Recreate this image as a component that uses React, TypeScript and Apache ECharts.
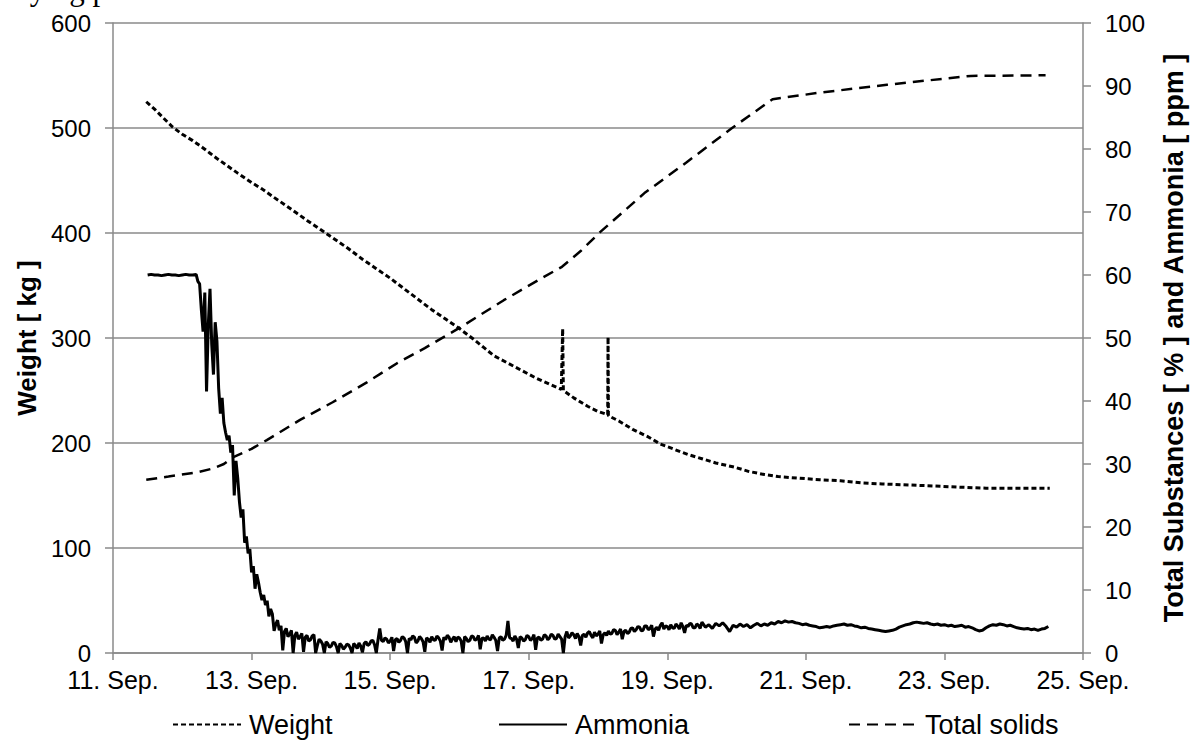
import React, { useEffect, useRef } from "react";
import * as echarts from "echarts";

// X values are days of September (e.g. 12.5 = 12. Sep., noon)
const X_TICKS_MIN = 11;
const X_TICKS_MAX = 25;
const X_TICK_STEP = 2;

const WEIGHT_KG: [number, number][] = [
  [11.48, 525], [11.6, 518], [11.72, 510], [11.86, 501], [12.0, 494], [12.15, 488], [12.3, 481],
  [12.4, 476], [12.5, 471], [12.65, 464], [12.8, 457], [13.0, 448], [13.15, 442], [13.3, 435],
  [13.5, 426], [13.65, 419], [13.8, 412], [14.0, 403], [14.2, 394], [14.4, 385], [14.6, 375],
  [14.8, 366], [15.0, 357], [15.2, 347], [15.42, 336], [15.6, 327], [15.8, 318], [16.0, 309],
  [16.2, 299], [16.35, 291], [16.5, 283], [16.7, 276], [16.9, 269], [17.1, 262], [17.3, 256],
  [17.47, 251], [17.48, 251], [17.49, 309], [17.5, 250], [17.65, 243], [17.85, 235], [18.0, 230],
  [18.14, 227], [18.145, 301], [18.15, 226], [18.3, 221], [18.5, 213], [18.72, 206], [18.9, 199],
  [19.1, 194], [19.3, 189], [19.5, 185], [19.7, 181], [19.97, 177], [20.17, 173], [20.4, 170],
  [20.6, 168], [20.8, 167], [21.0, 166], [21.2, 165], [21.5, 164], [21.8, 162], [22.1, 161],
  [22.5, 160], [22.87, 159], [23.2, 158], [23.6, 157], [24.0, 157], [24.52, 157],
];

const AMMONIA_PPM: [number, number][] = [
  [11.5, 60], [11.55, 60.1], [11.6, 60], [11.65, 60], [11.7, 59.9], [11.75, 60], [11.8, 60.1],
  [11.85, 60], [11.9, 60], [11.95, 59.9], [12.0, 60], [12.05, 60.1], [12.1, 60], [12.15, 60],
  [12.2, 60.1], [12.225, 59.0], [12.25, 58.6], [12.275, 54.5], [12.3, 51.0], [12.325, 57.2],
  [12.35, 41.5], [12.375, 52.0], [12.4, 57.8], [12.425, 49.0], [12.45, 44.2], [12.475, 52.5],
  [12.5, 49.5], [12.525, 42.0], [12.55, 38.0], [12.575, 40.5], [12.6, 36.5], [12.625, 35.0],
  [12.65, 33.8], [12.675, 34.5], [12.7, 31.8], [12.725, 33.0], [12.75, 25.0], [12.775, 30.5],
  [12.8, 27.8], [12.825, 24.0], [12.85, 21.5], [12.875, 22.8], [12.9, 17.5], [12.925, 18.5],
  [12.95, 15.8], [12.975, 16.5], [13.0, 12.8], [13.025, 13.8], [13.05, 10.2], [13.075, 12.5],
  [13.1, 11.2], [13.125, 9.6], [13.15, 8.4], [13.175, 9.2], [13.2, 7.6], [13.225, 8.3],
  [13.25, 5.8], [13.275, 7.0], [13.3, 6.2], [13.325, 3.5], [13.35, 4.6], [13.375, 5.2],
  [13.4, 3.6], [13.425, 4.3], [13.45, 0.4], [13.475, 3.4], [13.5, 3.9], [13.525, 2.6],
  [13.55, 3.0], [13.575, 3.6], [13.6, 0.0], [13.625, 2.8], [13.65, 3.3], [13.675, 2.2],
  [13.7, 2.6], [13.725, 3.1], [13.75, 0.2], [13.775, 2.5], [13.8, 2.8], [13.825, 1.9],
  [13.85, 2.1], [13.875, 2.7], [13.9, 2.9], [13.925, 0.0], [13.95, 1.2], [13.975, 2.2],
  [14.0, 1.9], [14.025, 1.4], [14.05, 0.0], [14.075, 1.8], [14.1, 1.5], [14.125, 0.9],
  [14.15, 1.1], [14.175, 1.7], [14.2, 1.6], [14.225, 1.0], [14.25, 0.0], [14.275, 1.5],
  [14.3, 1.2], [14.325, 0.6], [14.35, 0.9], [14.375, 1.4], [14.4, 1.3], [14.425, 0.8],
  [14.45, 0.0], [14.475, 1.5], [14.5, 1.2], [14.525, 0.7], [14.55, 1.6], [14.575, 1.1],
  [14.6, 0.1], [14.625, 1.5], [14.65, 1.8], [14.675, 1.2], [14.7, 1.4], [14.725, 1.9],
  [14.75, 2.0], [14.775, 1.3], [14.8, 0.0], [14.825, 2.1], [14.85, 3.9], [14.875, 2.0],
  [14.9, 1.8], [14.925, 2.4], [14.95, 2.2], [14.975, 1.6], [15.0, 1.9], [15.025, 2.5],
  [15.05, 0.3], [15.075, 2.1], [15.1, 2.3], [15.125, 1.7], [15.15, 2.0], [15.175, 2.6],
  [15.2, 2.4], [15.225, 1.8], [15.25, 0.0], [15.275, 2.3], [15.3, 2.1], [15.325, 2.7],
  [15.35, 2.5], [15.375, 1.6], [15.4, 1.9], [15.425, 2.6], [15.45, 2.3], [15.475, 1.8],
  [15.5, 0.2], [15.525, 2.4], [15.55, 2.2], [15.575, 1.7], [15.6, 2.6], [15.625, 2.1],
  [15.65, 2.0], [15.675, 2.7], [15.7, 2.4], [15.725, 1.9], [15.75, 0.4], [15.775, 2.5],
  [15.8, 2.1], [15.825, 2.8], [15.85, 2.5], [15.875, 1.7], [15.9, 2.2], [15.925, 2.6],
  [15.95, 1.8], [15.975, 2.5], [16.0, 2.4], [16.025, 1.9], [16.05, 0.0], [16.075, 2.6],
  [16.1, 2.3], [16.125, 1.8], [16.15, 2.0], [16.175, 2.7], [16.2, 2.6], [16.225, 2.0],
  [16.25, 2.2], [16.275, 2.8], [16.3, 0.6], [16.325, 2.3], [16.35, 2.4], [16.375, 1.9],
  [16.4, 2.7], [16.425, 2.2], [16.45, 2.1], [16.475, 2.9], [16.5, 2.5], [16.525, 2.0],
  [16.55, 0.3], [16.575, 2.4], [16.6, 2.6], [16.625, 2.0], [16.65, 2.2], [16.675, 2.8],
  [16.7, 5.1], [16.725, 2.4], [16.75, 2.3], [16.775, 1.9], [16.8, 2.7], [16.825, 2.2],
  [16.85, 0.8], [16.875, 2.6], [16.9, 2.4], [16.925, 1.9], [16.95, 2.1], [16.975, 2.8],
  [17.0, 2.6], [17.025, 2.0], [17.05, 2.3], [17.075, 2.9], [17.1, 0.5], [17.125, 2.4],
  [17.15, 2.5], [17.175, 2.0], [17.2, 2.2], [17.225, 2.9], [17.25, 2.7], [17.275, 2.1],
  [17.3, 2.4], [17.325, 3.0], [17.35, 2.8], [17.375, 2.2], [17.4, 2.3], [17.425, 3.0],
  [17.45, 2.6], [17.475, 2.2], [17.5, 0.0], [17.525, 2.6], [17.55, 3.4], [17.575, 2.4],
  [17.6, 2.7], [17.625, 3.2], [17.65, 2.9], [17.675, 2.3], [17.7, 3.1], [17.725, 2.6],
  [17.75, 1.2], [17.775, 2.8], [17.8, 3.0], [17.825, 2.5], [17.85, 3.2], [17.875, 3.4],
  [17.9, 2.8], [17.925, 2.4], [17.95, 3.3], [17.975, 2.7], [18.0, 3.0], [18.025, 3.5],
  [18.05, 1.5], [18.075, 2.9], [18.1, 3.2], [18.125, 2.8], [18.15, 3.5], [18.175, 3.0],
  [18.2, 3.1], [18.225, 3.7], [18.25, 3.6], [18.275, 2.9], [18.3, 3.3], [18.325, 3.8],
  [18.35, 2.2], [18.375, 3.4], [18.4, 3.6], [18.425, 3.1], [18.45, 3.3], [18.475, 3.9],
  [18.5, 4.0], [18.525, 3.4], [18.55, 3.7], [18.575, 4.2], [18.6, 4.1], [18.625, 3.5],
  [18.65, 3.6], [18.675, 4.3], [18.7, 4.3], [18.725, 3.7], [18.75, 3.9], [18.775, 4.4],
  [18.8, 2.6], [18.825, 3.8], [18.85, 4.1], [18.875, 3.6], [18.9, 4.4], [18.925, 4.8],
  [18.95, 3.8], [18.975, 4.3], [19.0, 4.2], [19.025, 3.7], [19.05, 4.5], [19.075, 4.0],
  [19.1, 3.9], [19.125, 4.6], [19.15, 4.3], [19.175, 3.8], [19.2, 4.8], [19.225, 4.2],
  [19.25, 3.2], [19.275, 4.4], [19.3, 4.2], [19.325, 4.7], [19.35, 4.6], [19.375, 4.0],
  [19.4, 4.0], [19.425, 4.6], [19.45, 4.4], [19.475, 3.9], [19.5, 4.9],
  [19.55, 4.1], [19.6, 4.5], [19.65, 3.9], [19.7, 4.7],
  [19.75, 4.3], [19.8, 4.8], [19.85, 4.2], [19.9, 3.4], [19.95, 4.4], [20.0, 4.1], [20.05, 4.6],
  [20.1, 4.2], [20.15, 4.5], [20.2, 4.0], [20.25, 4.4], [20.3, 4.7], [20.35, 4.3], [20.4, 4.6],
  [20.45, 4.4], [20.5, 4.8], [20.55, 4.6], [20.6, 5.0], [20.65, 4.8], [20.7, 5.1], [20.75, 4.9],
  [20.8, 5.0], [20.85, 4.8], [20.9, 4.7], [20.95, 4.5], [21.0, 4.6], [21.05, 4.4], [21.1, 4.3],
  [21.15, 4.2], [21.2, 4.0], [21.25, 4.1], [21.3, 4.2], [21.35, 4.1], [21.4, 4.3], [21.45, 4.4],
  [21.5, 4.5], [21.55, 4.6], [21.6, 4.4], [21.65, 4.5], [21.7, 4.3], [21.75, 4.2], [21.8, 4.0],
  [21.85, 4.1], [21.9, 3.9], [21.95, 3.8], [22.0, 3.7], [22.05, 3.6], [22.1, 3.5], [22.15, 3.4],
  [22.2, 3.5], [22.25, 3.6], [22.3, 3.8], [22.35, 4.1], [22.4, 4.3], [22.45, 4.5], [22.5, 4.6],
  [22.55, 4.8], [22.6, 4.9], [22.65, 4.8], [22.7, 4.7], [22.75, 4.8], [22.8, 4.6], [22.85, 4.5],
  [22.9, 4.6], [22.95, 4.4], [23.0, 4.5], [23.05, 4.3], [23.1, 4.4], [23.15, 4.2], [23.2, 4.3],
  [23.25, 4.4], [23.3, 4.1], [23.35, 4.2], [23.4, 4.0], [23.45, 3.7], [23.5, 3.5], [23.55, 3.6],
  [23.6, 4.0], [23.65, 4.3], [23.7, 4.5], [23.75, 4.4], [23.8, 4.6], [23.85, 4.5], [23.9, 4.3],
  [23.95, 4.4], [24.0, 4.2], [24.05, 4.0], [24.1, 3.9], [24.15, 3.8], [24.2, 3.9], [24.25, 3.7],
  [24.3, 3.8], [24.35, 3.6], [24.4, 3.8], [24.45, 3.9], [24.5, 4.2],
];

const TOTAL_SOLIDS_PCT: [number, number][] = [
  [11.48, 27.5], [11.8, 28.0], [12.22, 28.7], [12.45, 29.3], [12.6, 30.0], [12.72, 31.0],
  [13.0, 32.4], [13.22, 33.8], [13.7, 37.0], [14.17, 39.8], [14.67, 43.0], [15.1, 46.0],
  [15.5, 48.4], [16.0, 51.6], [16.64, 56.0], [17.22, 59.7], [17.48, 61.3], [17.75, 63.8],
  [18.03, 66.8], [18.67, 73.0], [19.28, 77.9], [19.93, 83.3], [20.52, 87.9], [21.17, 88.9],
  [22.17, 90.2], [23.38, 91.6], [24.46, 91.7],
];

const SERIES_NAMES = ["Weight", "Ammonia", "Total solids"];
const LEFT_AXIS_TITLE = "Weight [ kg ]";
const RIGHT_AXIS_TITLE = "Total Substances [ % ] and Ammonia [ ppm ]";
const CAPTION = "Drying process";

const FONT = "'Liberation Sans', Arial, sans-serif";
const GRAY = "#8a8a8a";

export default function App() {
  const ref = useRef<HTMLDivElement>(null);
  useEffect(() => {
    if (!ref.current) return;
    const chart = echarts.init(ref.current, null, { renderer: "svg" });
    const legendBase = {
      orient: "horizontal",
      top: 711,
      padding: 0,
      itemWidth: 68,
      itemHeight: 14,
      itemStyle: { opacity: 0, color: "transparent", borderWidth: 0 },
      textStyle: { fontFamily: FONT, fontSize: 27, color: "#000", padding: [0, 0, 0, 3] },
      selectedMode: false,
    };
    chart.setOption({
      animation: false,
      backgroundColor: "#fff",
      textStyle: { fontFamily: FONT },
      grid: { left: 113, right: 112, top: 23, bottom: 87, containLabel: false },
      graphic: [
        {
          type: "text",
          left: -3,
          top: -26,
          style: {
            text: CAPTION,
            font: "31px 'Liberation Serif', 'Times New Roman', serif",
            fill: "#000",
          },
        },
      ],
      legend: [
        { ...legendBase, left: 172, data: [SERIES_NAMES[0]] },
        { ...legendBase, left: 498, data: [SERIES_NAMES[1]] },
        { ...legendBase, left: 848, data: [SERIES_NAMES[2]] },
      ],
      xAxis: {
        type: "value",
        min: X_TICKS_MIN,
        max: X_TICKS_MAX,
        interval: X_TICK_STEP,
        axisLine: { show: true, lineStyle: { color: GRAY, width: 1.5 } },
        axisTick: { show: true, inside: false, length: 7, lineStyle: { color: GRAY, width: 1.5 } },
        splitLine: { show: false },
        axisLabel: {
          color: "#000",
          fontSize: 25,
          fontFamily: FONT,
          margin: 14,
          formatter: (v: number) => `${v}. Sep.`,
        },
      },
      yAxis: [
        {
          type: "value",
          min: 0,
          max: 600,
          interval: 100,
          position: "left",
          name: LEFT_AXIS_TITLE,
          nameLocation: "middle",
          nameRotate: 90,
          nameGap: 70,
          nameTextStyle: { fontFamily: FONT, fontSize: 26, fontWeight: "bold", color: "#000" },
          axisLine: { show: true, lineStyle: { color: GRAY, width: 1.5 } },
          axisTick: { show: true, length: 8, lineStyle: { color: GRAY, width: 1.5 } },
          splitLine: { show: true, lineStyle: { color: GRAY, width: 1.5 } },
          axisLabel: { color: "#000", fontSize: 24, fontFamily: FONT, margin: 22 },
        },
        {
          type: "value",
          min: 0,
          max: 100,
          interval: 10,
          position: "right",
          name: RIGHT_AXIS_TITLE,
          nameLocation: "middle",
          nameRotate: 90,
          nameGap: 77,
          nameTextStyle: { fontFamily: FONT, fontSize: 27, fontWeight: "bold", color: "#000" },
          axisLine: { show: true, lineStyle: { color: GRAY, width: 1.5 } },
          axisTick: { show: true, length: 8, lineStyle: { color: GRAY, width: 1.5 } },
          splitLine: { show: false },
          axisLabel: { color: "#000", fontSize: 24, fontFamily: FONT, margin: 22 },
        },
      ],
      series: [
        {
          name: SERIES_NAMES[0],
          type: "line",
          yAxisIndex: 0,
          data: WEIGHT_KG,
          symbol: "none",
          color: "#000",
          lineStyle: { color: "#000", width: 3, type: [5, 3] },
          z: 3,
        },
        {
          name: SERIES_NAMES[1],
          type: "line",
          yAxisIndex: 1,
          data: AMMONIA_PPM,
          symbol: "none",
          color: "#000",
          lineStyle: { color: "#000", width: 3, type: "solid" },
          z: 4,
        },
        {
          name: SERIES_NAMES[2],
          type: "line",
          yAxisIndex: 1,
          data: TOTAL_SOLIDS_PCT,
          symbol: "none",
          color: "#000",
          lineStyle: { color: "#000", width: 2.5, type: [11, 7] },
          z: 3,
        },
      ],
    });
    return () => chart.dispose();
  }, []);
  return (
    <div
      ref={ref}
      style={{ position: "fixed", left: 0, top: 0, width: 1195, height: 740, background: "#fff" }}
    />
  );
}
